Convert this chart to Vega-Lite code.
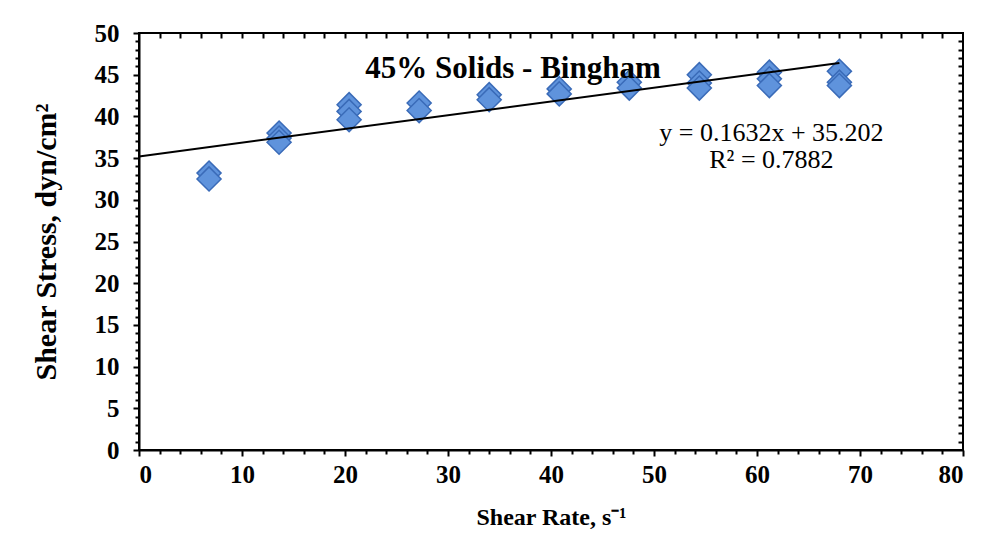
{
  "$schema": "https://vega.github.io/schema/vega-lite/v6.json",
  "width": 824,
  "height": 417,
  "autosize": "none",
  "padding": {"left": 139, "top": 33, "right": 30, "bottom": 103},
  "background": "white",
  "title": {
    "text": "45% Solids - Bingham",
    "font": "Times New Roman",
    "fontSize": 31,
    "fontWeight": "bold",
    "color": "black",
    "anchor": "middle",
    "frame": "group",
    "dx": -38,
    "offset": -64
  },
  "config": {
    "view": {"stroke": "black", "strokeWidth": 2},
    "axis": {
      "labelFont": "Times New Roman",
      "labelFontSize": 25,
      "labelFontWeight": "bold",
      "labelColor": "black",
      "titleFont": "Times New Roman",
      "titleFontSize": 24,
      "titleFontWeight": "bold",
      "titleColor": "black",
      "tickColor": "black",
      "domainColor": "black",
      "domainWidth": 2,
      "tickWidth": 2,
      "grid": false
    }
  },
  "datasets": {
    "pts": [
      {"rate": 6.8, "stress": 33.2}, {"rate": 6.8, "stress": 32.5},
      {"rate": 13.6, "stress": 38.0}, {"rate": 13.6, "stress": 37.4}, {"rate": 13.6, "stress": 36.9},
      {"rate": 20.4, "stress": 41.4}, {"rate": 20.4, "stress": 40.6}, {"rate": 20.4, "stress": 39.6},
      {"rate": 27.2, "stress": 41.6}, {"rate": 27.2, "stress": 40.7},
      {"rate": 34.0, "stress": 42.6}, {"rate": 34.0, "stress": 42.0},
      {"rate": 40.8, "stress": 43.3}, {"rate": 40.8, "stress": 42.7},
      {"rate": 47.6, "stress": 44.1}, {"rate": 47.6, "stress": 43.4},
      {"rate": 54.4, "stress": 45.0}, {"rate": 54.4, "stress": 44.0}, {"rate": 54.4, "stress": 43.4},
      {"rate": 61.2, "stress": 45.3}, {"rate": 61.2, "stress": 44.5}, {"rate": 61.2, "stress": 43.7},
      {"rate": 68.0, "stress": 45.4}, {"rate": 68.0, "stress": 44.1}, {"rate": 68.0, "stress": 43.7}
    ],
    "fit": [{"x1": 0, "y1": 35.202, "x2": 68, "y2": 46.3996}],
    "labels": [
      {"x": 61.4, "y": 38.0, "t": "y = 0.1632x + 35.202"},
      {"x": 61.4, "y": 34.8, "t": "R² = 0.7882"}
    ]
  },
  "layer": [
    {
      "data": {"name": "pts"},
      "mark": {"type": "point", "shape": "diamond", "filled": true, "size": 580, "fill": "#5f93dc", "stroke": "#3a6bb8", "strokeWidth": 1.5, "opacity": 1},
      "encoding": {
        "x": {"field": "rate", "type": "quantitative", "scale": {"domain": [0, 80], "nice": false},
          "axis": {"orient": "bottom", "values": [0,10,20,30,40,50,60,70,80], "tickSize": 6, "labelPadding": 6, "title": "Shear Rate, s⁻¹", "titlePadding": 18}},
        "y": {"field": "stress", "type": "quantitative", "scale": {"domain": [0, 50], "nice": false},
          "axis": {"orient": "left", "values": [0,5,10,15,20,25,30,35,40,45,50], "tickSize": 6, "labelPadding": 14, "title": "Shear Stress, dyn/cm²", "titleFontSize": 30, "titlePadding": 33}}
      }
    },
    {
      "data": {"name": "fit"},
      "mark": {"type": "rule", "color": "black", "strokeWidth": 2},
      "encoding": {
        "x": {"field": "x1", "type": "quantitative",
          "axis": {"orient": "bottom", "values": [2,4,6,8,12,14,16,18,22,24,26,28,32,34,36,38,42,44,46,48,52,54,56,58,62,64,66,68,72,74,76,78], "tickSize": 4, "labels": false, "domain": false, "title": null}},
        "y": {"field": "y1", "type": "quantitative",
          "axis": {"orient": "left", "values": [1,2,3,4,6,7,8,9,11,12,13,14,16,17,18,19,21,22,23,24,26,27,28,29,31,32,33,34,36,37,38,39,41,42,43,44,46,47,48,49], "tickSize": 4, "labels": false, "domain": false, "title": null}},
        "x2": {"field": "x2"},
        "y2": {"field": "y2"}
      }
    },
    {
      "data": {"name": "labels"},
      "mark": {"type": "text", "font": "Times New Roman", "fontSize": 26, "color": "black", "align": "center", "baseline": "middle"},
      "encoding": {
        "x": {"field": "x", "type": "quantitative",
          "axis": {"orient": "top", "values": [2,4,6,8,10,12,14,16,18,20,22,24,26,28,30,32,34,36,38,40,42,44,46,48,50,52,54,56,58,60,62,64,66,68,70,72,74,76,78], "tickSize": -5, "labels": false, "domain": false, "title": null}},
        "y": {"field": "y", "type": "quantitative",
          "axis": {"orient": "right", "values": [1,2,3,4,5,6,7,8,9,10,11,12,13,14,15,16,17,18,19,20,21,22,23,24,25,26,27,28,29,30,31,32,33,34,35,36,37,38,39,40,41,42,43,44,45,46,47,48,49], "tickSize": -5, "labels": false, "domain": false, "title": null}},
        "text": {"field": "t"}
      }
    }
  ],
  "resolve": {"axis": {"x": "independent", "y": "independent"}}
}
